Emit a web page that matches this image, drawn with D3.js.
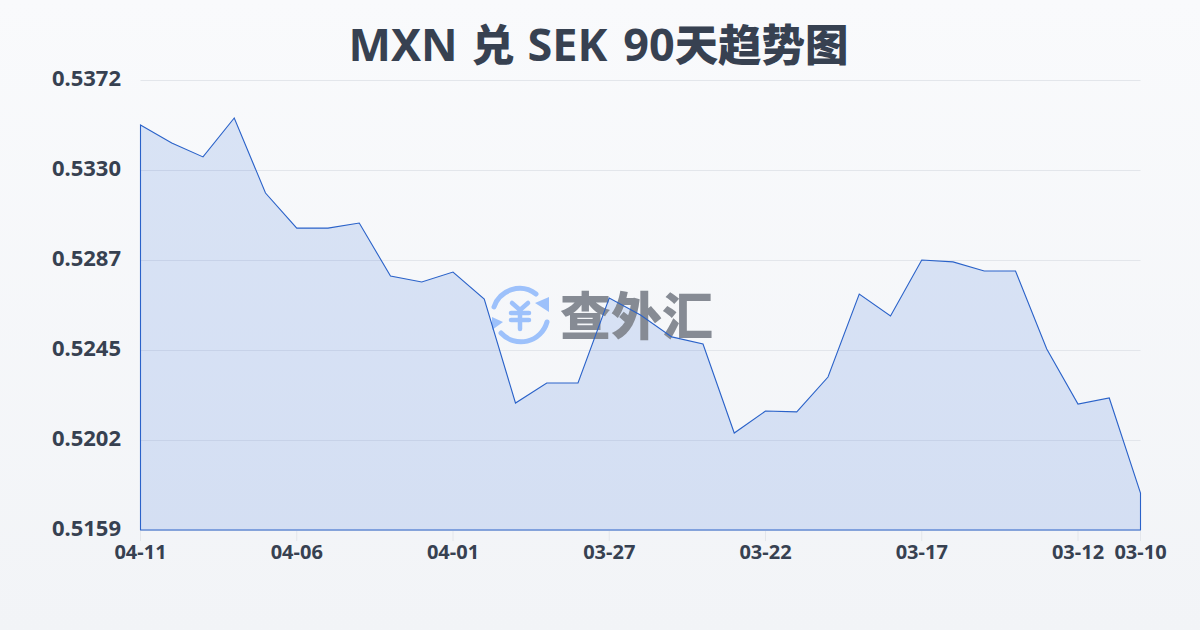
<!DOCTYPE html>
<html><head><meta charset="utf-8">
<script src="https://cdn.jsdelivr.net/npm/d3@7/dist/d3.min.js"></script>
<style>html,body{margin:0;padding:0;background:#f5f7fa}svg{display:block}</style>
</head><body><svg id="c" width="1200" height="630"></svg>
<script>
const titleParts = ["MXN ","兑 ","SEK ","90","天趋势图"];
const watermarkText = "查外汇";
const dates = ["04-11","04-10","04-09","04-08","04-07","04-06","04-05","04-04","04-03","04-02","04-01","03-31","03-30","03-29","03-28","03-27","03-26","03-25","03-24","03-23","03-22","03-21","03-20","03-19","03-18","03-17","03-16","03-15","03-14","03-13","03-12","03-11","03-10"];
const rates = [0.53507,0.53422,0.53356,0.53540,0.53185,0.53019,0.53019,0.53043,0.52792,0.52764,0.52811,0.52683,0.52191,0.52286,0.52286,0.52688,0.52608,0.52504,0.52470,0.52049,0.52153,0.52149,0.52314,0.52707,0.52603,0.52868,0.52859,0.52816,0.52816,0.52447,0.52186,0.52215,0.51765];
const yTickLabels = ["0.5159","0.5202","0.5245","0.5287","0.5330","0.5372"];
const xTickLabels = ["04-11","04-06","04-01","03-27","03-22","03-17","03-12","03-10"];

const W=1200,H=630,L=140.5,R=1140.5,T=80,B=530;
const svg=d3.select("#c");
const defs=svg.append("defs");
const bg=defs.append("linearGradient").attr("id","bg").attr("x1",0).attr("y1",0).attr("x2",0).attr("y2",1);
bg.append("stop").attr("offset",0).attr("stop-color","#f9fafc");
bg.append("stop").attr("offset",1).attr("stop-color","#f2f4f7");
svg.append("rect").attr("width",W).attr("height",H).attr("fill","url(#bg)");

const font="'Noto Sans','Noto Sans CJK SC',sans-serif";
const x=d3.scalePoint().domain(dates).range([L,R]);
const y=d3.scaleLinear().domain([0.5159,0.5372]).range([B,T]);
const yPos=i=>T+(B-T)*(1-i/(yTickLabels.length-1));

const titleSizes=[45,43,45,45,43.5], titleDx=[0,2,2,4,0], titleWeights=[700,900,700,700,900];
svg.append("text").attr("x",348.5).attr("y",60.5)
  .attr("font-family",font).attr("font-weight",700).attr("fill","#374151")
  .attr("xml:space","preserve").style("white-space","pre")
  .selectAll("tspan").data(titleParts).join("tspan")
  .attr("dx",(d,i)=>titleDx[i]).attr("font-size",(d,i)=>titleSizes[i]).attr("font-weight",(d,i)=>titleWeights[i]).text(d=>d);

// gridlines
svg.append("g").selectAll("line").data(yTickLabels).join("line")
  .attr("x1",L).attr("x2",R).attr("y1",(d,i)=>Math.round(yPos(i))+.5).attr("y2",(d,i)=>Math.round(yPos(i))+.5)
  .attr("stroke","#e3e6eb").attr("stroke-width",1);

// area fill
const area=d3.area().x(d=>x(d.date)).y0(B).y1(d=>y(d.rate));
const series=dates.map((d,i)=>({date:d,rate:rates[i]}));
svg.append("path").datum(series).attr("d",area).attr("fill","#2862d8").attr("fill-opacity",.15);

// watermark
const wm=svg.append("g");
const ic=wm.append("g").attr("transform","translate(520,315)").attr("fill","none").attr("stroke","#9dc1fb").attr("stroke-linecap","round");
ic.append("path").attr("d","M-26,-8 A27,27 0 0 1 16,-21").attr("stroke-width",5);
ic.append("path").attr("d","M29,-18 L29,-3 L15,-12 Z").attr("fill","#9dc1fb").attr("stroke","none");
ic.append("path").attr("d","M27,7 A27,27 0 0 1 -19,18").attr("stroke-width",5);
ic.append("path").attr("d","M-28,2 L-28,15 L-17,7 Z").attr("fill","#9dc1fb").attr("stroke","none");
ic.append("path").attr("d","M-8,-12 L0,-5 L8,-12 M-9,-2 H9 M-9,5 H9 M0,-5 V14").attr("stroke-width",4.5);
wm.append("text").attr("x",560).attr("y",335).attr("font-family","'Noto Sans CJK SC',sans-serif").attr("font-weight",900)
  .attr("font-size",51).attr("fill","#868b94").text(watermarkText);

// outline
svg.append("path").datum(series).attr("d",area).attr("fill","none")
  .attr("stroke","#2a62c9").attr("stroke-width",1.1);

// ticks
svg.append("g").selectAll("line").data(xTickLabels).join("line")
  .attr("x1",d=>x(d)).attr("x2",d=>x(d)).attr("y1",B+1).attr("y2",B+11).attr("stroke","#e3e6eb");

svg.append("g").selectAll("text").data(yTickLabels).join("text")
  .attr("x",121).attr("y",(d,i)=>yPos(i)+6).attr("text-anchor","end")
  .attr("font-family",font).attr("font-weight",700).attr("font-size",22).attr("fill","#374151").text(d=>d);
svg.append("g").selectAll("text").data(xTickLabels).join("text")
  .attr("x",d=>x(d)).attr("y",559).attr("text-anchor","middle")
  .attr("font-family",font).attr("font-weight",700).attr("font-size",20).attr("fill","#374151").text(d=>d);
</script></body></html>
